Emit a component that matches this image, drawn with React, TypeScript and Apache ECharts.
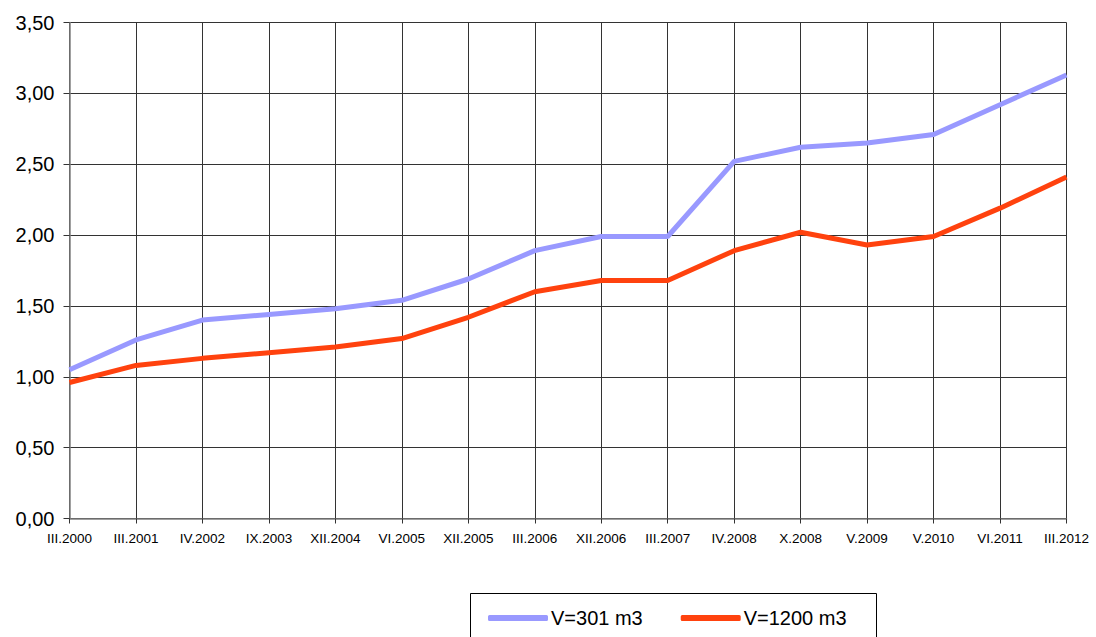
import React, { useEffect, useRef } from "react";
import * as echarts from "echarts";

const categories = [
  "III.2000", "III.2001", "IV.2002", "IX.2003", "XII.2004", "VI.2005", "XII.2005", "III.2006",
  "XII.2006", "III.2007", "IV.2008", "X.2008", "V.2009", "V.2010", "VI.2011", "III.2012",
];
const v301 = [1.05, 1.26, 1.4, 1.44, 1.48, 1.54, 1.69, 1.89, 1.99, 1.99, 2.52, 2.62, 2.65, 2.71, 2.92, 3.13];
const v1200 = [0.96, 1.08, 1.13, 1.17, 1.21, 1.27, 1.42, 1.6, 1.68, 1.68, 1.89, 2.02, 1.93, 1.99, 2.19, 2.41];
const seriesNames = ["V=301 m3", "V=1200 m3"];

const FONT = "'Liberation Sans', Arial, sans-serif";

export default function App() {
  const ref = useRef<HTMLDivElement>(null);
  useEffect(() => {
    if (!ref.current) return;
    const chart = echarts.init(ref.current, undefined, { renderer: "svg" });
    chart.setOption({
      animation: false,
      backgroundColor: "#ffffff",
      grid: { left: 69.5, right: 29.5, top: 22.5, bottom: 118.5, containLabel: false },
      xAxis: {
        type: "category",
        data: categories,
        boundaryGap: false,
        axisLine: { lineStyle: { color: "#808080", width: 1.5 } },
        axisTick: { show: true, length: 5, alignWithLabel: true, lineStyle: { color: "#333" } },
        axisLabel: { fontFamily: FONT, fontSize: 13.5, color: "#000", margin: 13, interval: 0 },
        splitLine: { show: true, lineStyle: { color: "#333", width: 1 } },
      },
      yAxis: {
        type: "value",
        min: 0,
        max: 3.5,
        interval: 0.5,
        axisLine: { show: true, lineStyle: { color: "#808080", width: 1.5 } },
        axisTick: { show: true, length: 6, lineStyle: { color: "#333" } },
        axisLabel: {
          fontFamily: FONT,
          fontSize: 20,
          color: "#000",
          margin: 15,
          formatter: (v: number) => v.toFixed(2).replace(".", ","),
        },
        splitLine: { show: true, lineStyle: { color: "#333", width: 1 } },
      },
      legend: {
        left: 483,
        top: 603,
        itemWidth: 60,
        itemHeight: 6,
        itemGap: 38,
        icon: "roundRect",
        textStyle: { fontFamily: FONT, fontSize: 20, color: "#000", padding: [0, 0, 0, -2] },
        data: seriesNames,
      },
      graphic: [
        {
          type: "rect",
          shape: { x: 470.5, y: 593.5, width: 406, height: 60 },
          style: { fill: "none", stroke: "#000", lineWidth: 1 },
          silent: true,
        },
      ],
      series: [
        {
          name: seriesNames[0],
          type: "line",
          data: v301,
          showSymbol: false,
          symbol: "none",
          lineStyle: { color: "#9999ff", width: 5 },
          itemStyle: { color: "#9999ff" },
        },
        {
          name: seriesNames[1],
          type: "line",
          data: v1200,
          showSymbol: false,
          symbol: "none",
          lineStyle: { color: "#ff420e", width: 5 },
          itemStyle: { color: "#ff420e" },
        },
      ],
    });
    return () => chart.dispose();
  }, []);
  return <div ref={ref} style={{ width: 1096, height: 637, position: "absolute", left: 0, top: 0 }} />;
}
